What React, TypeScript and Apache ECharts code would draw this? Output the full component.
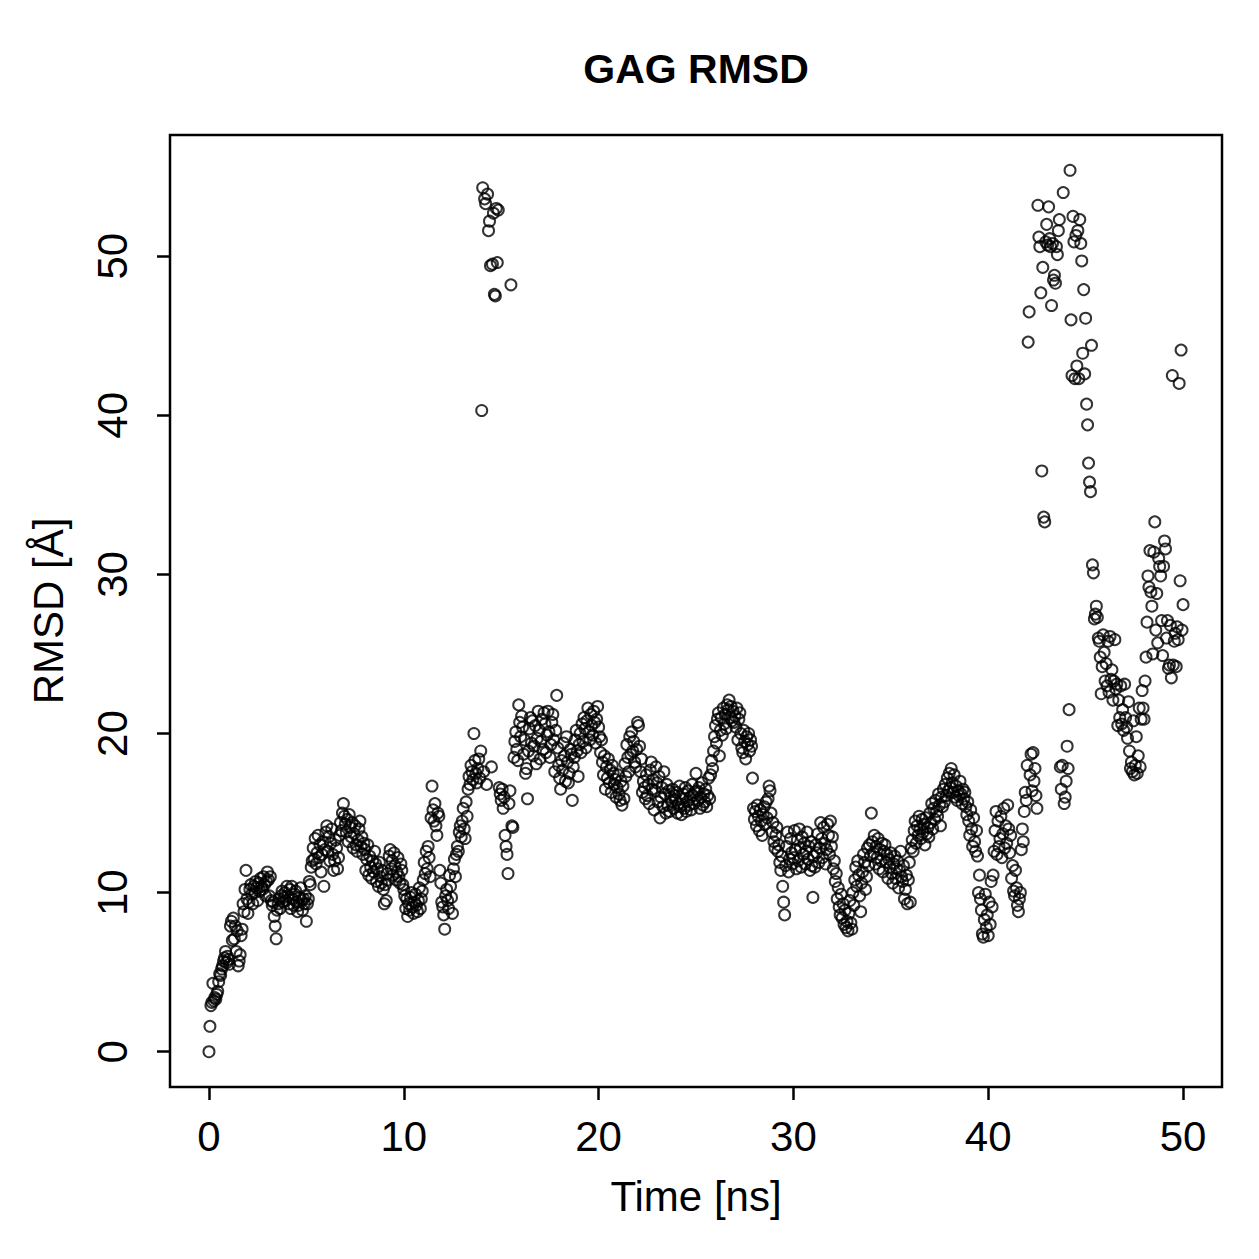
import React, { useEffect, useRef } from "react";
import * as echarts from "echarts";

// RMSD (Å) sampled every 0.05 ns from 0 to 50 ns (one row = 1 ns)
const timeStep = 0.05;
const rmsd: number[] = [
  0.0, 1.6, 2.9, 3.1, 4.3, 3.2, 3.4, 3.3, 3.6, 3.8, 4.4, 4.9, 4.8, 5.2, 5.4, 5.7, 5.9, 6.3, 5.6, 6.0,
  5.8, 5.5, 7.9, 8.2, 7.0, 8.4, 7.1, 7.9, 6.3, 7.6, 5.4, 5.7, 6.1, 7.3, 7.7, 9.3, 8.8, 10.2, 11.4, 9.6,
  8.7, 9.4, 10.2, 10.5, 9.9, 9.3, 10.4, 10.0, 10.7, 10.3, 9.5, 10.6, 10.1, 10.9, 10.4, 10.2, 11.0, 10.5, 9.8, 10.7,
  11.3, 10.8, 9.8, 11.0, 9.5, 9.2, 9.4, 8.5, 7.9, 7.1, 8.9, 9.3, 9.6, 9.0, 9.8, 10.1, 9.4, 9.7, 10.0, 9.5,
  10.4, 9.8, 9.3, 10.2, 9.0, 10.4, 9.6, 9.2, 9.9, 10.1, 9.4, 8.8, 9.2, 9.7, 10.3, 9.5, 8.9, 9.6, 9.3, 9.8,
  8.2, 9.3, 9.6, 10.7, 10.5, 11.6, 12.0, 12.8, 12.1, 13.4, 11.8, 12.5, 13.6, 12.2, 13.0, 11.3, 12.4, 13.2, 10.4, 12.7,
  13.8, 14.2, 12.6, 13.5, 12.0, 13.1, 14.0, 12.4, 11.4, 12.0, 13.3, 12.8, 11.5, 12.2, 13.6, 14.4, 13.9, 15.0, 15.6, 14.8,
  14.3, 13.8, 14.6, 13.2, 14.9, 14.1, 13.5, 14.4, 12.8, 13.7, 14.2, 13.0, 12.6, 13.3, 14.0, 14.5, 12.9, 13.5, 12.4, 13.1,
  12.7, 11.4, 12.1, 13.0, 11.1, 12.3, 11.6, 10.9, 12.0, 11.3, 12.6, 11.8, 10.7, 11.5, 10.4, 11.9, 11.0, 10.6, 11.4, 10.2,
  9.3, 10.5, 9.5, 11.2, 10.8, 12.3, 12.7, 11.5, 12.0, 11.1, 12.5, 11.7, 10.8, 11.3, 12.2, 11.0, 10.6, 11.8, 11.4, 10.5,
  10.2, 9.8, 9.0, 9.6, 8.5, 9.3, 8.9, 9.7, 10.0, 9.1, 8.7, 9.4, 9.9, 9.2, 8.8, 9.5, 10.3, 9.0, 9.6, 10.1,
  10.8, 11.9, 11.2, 12.6, 11.5, 12.9, 12.2, 11.0, 14.7, 16.7, 15.2, 14.5, 15.6, 14.2, 13.6, 15.0, 14.8, 11.4, 10.6, 9.4,
  9.1, 8.6, 7.7, 9.8, 10.2, 9.5, 9.0, 11.1, 10.4, 9.7, 8.7, 11.5, 12.1, 11.0, 12.4, 12.9, 12.6, 13.8, 14.2, 13.5,
  14.5, 15.3, 14.0, 13.4, 15.7, 14.8, 16.5, 17.3, 16.8, 18.0, 17.6, 17.1, 20.0, 18.3, 17.5, 16.9, 17.8, 18.4, 17.2, 18.9,
  40.3, 54.3, 17.6, 53.6, 53.3, 16.8, 53.9, 51.6, 52.2, 49.4, 17.9, 49.5, 52.7, 47.6, 47.5, 53.0, 49.6, 52.9, 16.6, 16.2,
  15.8, 16.5, 15.3, 16.0, 13.6, 12.9, 12.4, 11.2, 15.6, 16.4, 48.2, 14.2, 14.1, 18.5, 19.5, 20.1, 19.0, 18.3, 21.8, 20.7,
  19.8, 21.1, 20.4, 18.7, 19.6, 17.5, 17.8, 15.9, 18.9, 20.3, 21.0, 19.4, 20.8, 18.6, 19.2, 20.5, 18.1, 19.7, 21.4, 20.2,
  18.4, 19.5, 20.9, 19.0, 21.3, 20.6, 18.8, 19.9, 21.4, 20.1, 18.5, 19.3, 20.7, 21.2, 19.6, 17.6, 20.2, 22.4, 19.1, 18.0,
  17.2, 16.5, 18.3, 17.7, 19.4, 18.6, 17.0, 19.8, 18.2, 16.9, 17.5, 19.0, 18.7, 15.8, 17.9, 18.5, 19.6, 20.2, 18.9, 17.3,
  19.3, 20.0, 18.8, 20.6, 19.5, 21.0, 20.3, 19.1, 20.8, 21.6, 20.1, 19.6, 21.2, 20.5, 19.9, 21.4, 20.7, 19.4, 20.9, 21.7,
  20.4, 19.8, 18.8, 19.6, 18.2, 17.4, 18.6, 16.5, 17.9, 17.2, 18.4, 16.9, 17.7, 16.3, 18.0, 17.5, 16.8, 17.1, 16.0, 16.6,
  17.4, 16.2, 15.8, 17.0, 15.5, 16.7, 15.9, 18.1, 17.3, 19.3, 18.5, 17.6, 19.8, 18.7, 20.1, 18.9, 19.5, 18.2, 17.9, 19.0,
  20.7, 20.5, 19.2, 17.6, 18.4, 16.3, 17.0, 16.6, 15.9, 17.4, 16.1, 16.8, 15.6, 17.7, 18.2, 16.5, 17.1, 15.2, 16.4, 17.9,
  16.9, 15.7, 17.3, 14.7, 16.0, 16.6, 15.4, 17.6, 16.2, 15.0, 16.8, 15.5, 16.4, 15.1, 16.0, 15.7, 16.5, 15.3, 16.1, 15.8,
  16.3, 15.0, 15.6, 16.7, 15.4, 14.9, 15.9, 16.2, 15.3, 16.6, 15.1, 15.7, 16.4, 15.5, 16.0, 15.2, 16.8, 16.1, 15.6, 16.3,
  17.5, 16.4, 15.8, 16.6, 15.3, 16.0, 16.9, 15.5, 16.2, 15.7, 16.5, 15.4, 16.1, 17.2, 15.9, 17.4, 18.3, 17.8, 18.9, 19.8,
  20.5, 19.4, 20.9, 21.3, 18.6, 20.2, 21.0, 19.9, 21.6, 20.6, 21.2, 20.3, 21.8, 21.5, 22.1, 21.0, 21.7, 20.8, 21.4, 20.7,
  21.1, 20.4, 21.6, 19.6, 20.9, 21.3, 20.0, 19.1, 18.8, 20.2, 19.5, 18.4, 19.8, 19.3, 20.0, 18.9, 19.6, 19.2, 17.2, 15.3,
  14.6, 15.1, 14.2, 15.5, 14.8, 13.9, 15.2, 14.5, 13.6, 14.9, 15.4, 14.3, 15.7, 14.7, 15.9, 16.7, 16.4, 15.0, 13.8, 14.4,
  13.2, 12.8, 13.6, 14.1, 12.6, 13.0, 11.9, 11.4, 12.3, 10.4, 9.4, 8.6, 11.7, 12.9, 13.8, 11.3, 12.1, 13.4, 12.5, 11.8,
  12.2, 13.9, 12.7, 11.5, 13.3, 12.0, 14.0, 12.8, 11.6, 13.5, 12.4, 13.1, 11.8, 12.6, 13.8, 12.1, 12.9, 11.4, 13.2, 11.7,
  9.7, 12.3, 11.6, 13.0, 12.5, 13.7, 11.9, 12.8, 14.4, 13.4, 12.2, 14.1, 13.1, 11.8, 12.7, 14.3, 13.6, 12.4, 14.5, 12.9,
  13.5, 11.5, 12.0, 10.7, 11.2, 9.6, 10.3, 9.1, 8.6, 9.9, 8.4, 9.3, 8.0, 8.9, 7.8, 8.2, 7.6, 8.7, 9.5, 8.1,
  7.7, 10.0, 9.2, 10.8, 11.6, 10.4, 12.0, 11.1, 9.8, 8.8, 10.6, 11.3, 12.4, 11.9, 10.2, 11.0, 12.8, 11.7, 13.0, 12.3,
  15.0, 13.2, 12.5, 13.6, 11.8, 12.9, 12.2, 13.4, 11.5, 12.7, 12.0, 13.1, 11.3, 12.6, 13.0, 11.9, 12.4, 10.9, 12.1, 11.6,
  12.5, 11.2, 10.6, 11.8, 12.3, 10.9, 11.5, 12.0, 10.3, 11.4, 12.6, 11.0, 10.7, 11.7, 9.6, 10.2, 11.1, 9.3, 10.8, 11.9,
  9.4, 12.8, 13.3, 12.6, 13.9, 14.5, 13.1, 14.2, 13.6, 14.8, 14.0, 13.4, 14.6, 13.8, 14.3, 13.0, 14.7, 13.7, 14.1, 13.5,
  15.0, 14.4, 15.6, 14.0, 15.3, 14.6, 15.8, 15.1, 14.8, 16.2, 15.5, 14.2, 16.0, 15.4, 16.5, 15.7, 16.8, 16.1, 17.2, 16.4,
  17.5, 16.6, 17.8, 16.9, 16.3, 17.4, 16.0, 16.7, 15.8, 16.4, 16.1, 17.0, 16.2, 15.6, 16.5, 15.9, 16.3, 15.4, 14.9, 15.7,
  14.5, 13.6, 15.2, 14.0, 12.9, 14.7, 13.2, 12.6, 13.9, 12.3, 10.0, 11.1, 9.6, 8.9, 7.4, 7.2, 8.3, 9.9, 7.8, 8.6,
  7.3, 9.4, 8.0, 10.7, 9.1, 11.1, 12.6, 13.9, 15.1, 12.4, 14.5, 12.9, 13.4, 14.8, 12.2, 13.7, 15.3, 12.8, 14.2, 13.1,
  15.5, 14.0, 12.5, 13.6, 10.9, 11.7, 10.1, 9.8, 11.4, 10.3, 9.2, 8.8, 9.6, 10.0, 12.7, 14.0, 13.2, 15.1, 16.3, 15.8,
  18.0, 44.6, 46.5, 17.4, 18.7, 16.4, 18.8, 17.0, 17.8, 16.1, 15.3, 53.2, 51.2, 50.6, 47.7, 36.5, 49.3, 33.6, 33.3, 50.9,
  52.0, 50.7, 53.1, 51.1, 50.6, 46.9, 50.8, 48.5, 48.8, 48.3, 50.6, 50.1, 51.6, 52.3, 17.9, 16.5, 18.0, 54.0, 15.6, 16.0,
  17.0, 19.2, 17.8, 21.5, 55.4, 46.0, 42.5, 52.5, 50.9, 42.3, 51.3, 43.1, 51.6, 42.3, 52.3, 50.8, 49.7, 43.9, 47.9, 42.6,
  46.1, 40.7, 39.4, 37.0, 35.8, 35.2, 44.4, 30.6, 30.1, 27.2, 27.5, 28.0, 27.3, 26.0, 25.8, 24.8, 22.5, 24.2, 26.2, 25.1,
  23.3, 24.4, 23.0, 25.8, 22.6, 26.1, 23.4, 24.0, 22.1, 23.3, 25.9, 22.8, 23.1, 20.5, 22.1, 21.0, 23.0, 20.6, 21.5, 20.2,
  23.1, 21.0, 20.4, 19.7, 22.0, 18.9, 17.8, 18.2, 17.6, 20.8, 17.4, 18.0, 19.8, 17.5, 18.6, 21.6, 17.9, 20.9, 22.7, 21.6,
  20.9, 23.3, 24.8, 27.0, 29.9, 29.2, 31.5, 28.9, 28.0, 25.0, 31.4, 33.3, 26.5, 28.8, 25.7, 31.0, 30.5, 29.9, 27.1, 24.9,
  30.5, 32.1, 31.6, 26.0, 27.1, 24.1, 24.3, 26.8, 23.5, 42.5, 24.3, 25.8, 26.3, 24.2, 26.7, 25.9, 42.0, 29.6, 44.1, 26.5,
  28.1,
];

const xTicks = [0, 10, 20, 30, 40, 50];
const yTicks = [0, 10, 20, 30, 40, 50];

const FONT = "'Liberation Sans', Arial, Helvetica, sans-serif";

// plot region (pixels)
const PLOT_LEFT = 170;
const PLOT_TOP = 135;
const PLOT_W = 1052;
const PLOT_H = 952;
const TICK_LEN = 13;

export default function App() {
  const ref = useRef<HTMLDivElement>(null);

  useEffect(() => {
    if (!ref.current) return;
    const chart = echarts.init(ref.current, undefined, { renderer: "svg" });

    const times = rmsd.map((_, i) => +(i * timeStep).toFixed(2));
    const data = rmsd.map((v, i) => [times[i], v]);

    // R-style 4% axis extension
    const tMin = Math.min(...times), tMax = Math.max(...times);
    const yLo = Math.min(...rmsd), yHi = Math.max(...rmsd);
    const tPad = (tMax - tMin) * 0.04;
    const yPad = (yHi - yLo) * 0.04;
    const xA = tMin - tPad, xB = tMax + tPad;
    const yA = yLo - yPad, yB = yHi + yPad;

    // map values to pixels of the main plot, to size the thin tick strips
    const px = (t: number) => PLOT_LEFT + ((t - xA) / (xB - xA)) * PLOT_W;
    const py = (v: number) => PLOT_TOP + ((yB - v) / (yB - yA)) * PLOT_H;
    const xt0 = xTicks[0], xt1 = xTicks[xTicks.length - 1];
    const yt0 = yTicks[0], yt1 = yTicks[yTicks.length - 1];

    const labelStyle = { fontFamily: FONT, fontSize: 42, color: "#000" };
    const tickLine = { color: "#000", width: 2.5 };

    chart.setOption({
      animation: false,
      backgroundColor: "#ffffff",
      title: {
        text: "GAG RMSD",
        left: 696,
        top: 48,
        textAlign: "center",
        padding: 0,
        textStyle: { fontFamily: FONT, fontSize: 41, fontWeight: "bold", color: "#000" },
      },
      grid: [
        {
          left: PLOT_LEFT,
          top: PLOT_TOP,
          width: PLOT_W,
          height: PLOT_H,
          show: true,
          borderColor: "#000",
          borderWidth: 2.5,
          backgroundColor: "transparent",
        },
        {
          // thin strip just below the plot box, holding the x ticks
          left: px(xt0),
          width: px(xt1) - px(xt0),
          top: PLOT_TOP + PLOT_H,
          height: TICK_LEN,
          show: false,
        },
        {
          // thin strip just left of the plot box, holding the y ticks
          left: PLOT_LEFT - TICK_LEN,
          width: TICK_LEN,
          top: py(yt1),
          height: py(yt0) - py(yt1),
          show: false,
        },
      ],
      xAxis: [
        {
          gridIndex: 0,
          type: "value",
          min: xA,
          max: xB,
          name: "Time [ns]",
          nameLocation: "middle",
          nameGap: 88,
          nameTextStyle: labelStyle,
          axisLine: { show: false, onZero: false },
          axisTick: { show: false },
          axisLabel: { ...labelStyle, customValues: xTicks, margin: 28 },
          splitLine: { show: false },
        },
        {
          gridIndex: 1,
          type: "value",
          min: xt0,
          max: xt1,
          interval: 10,
          position: "bottom",
          axisLine: { show: false, onZero: false },
          axisTick: { show: true, inside: true, length: TICK_LEN, lineStyle: tickLine },
          axisLabel: { show: false },
          splitLine: { show: false },
        },
        {
          gridIndex: 2,
          type: "value",
          show: false,
          min: 0,
          max: 1,
        },
      ],
      yAxis: [
        {
          gridIndex: 0,
          type: "value",
          min: yA,
          max: yB,
          name: "RMSD [Å]",
          nameLocation: "middle",
          nameGap: 101,
          nameRotate: 90,
          nameTextStyle: labelStyle,
          axisLine: { show: false, onZero: false },
          axisTick: { show: false },
          axisLabel: { ...labelStyle, customValues: yTicks, rotate: 90, margin: 37 },
          splitLine: { show: false },
        },
        {
          gridIndex: 1,
          type: "value",
          show: false,
          min: 0,
          max: 1,
        },
        {
          gridIndex: 2,
          type: "value",
          min: yt0,
          max: yt1,
          interval: 10,
          position: "left",
          axisLine: { show: false, onZero: false },
          axisTick: { show: true, inside: true, length: TICK_LEN, lineStyle: tickLine },
          axisLabel: { show: false },
          splitLine: { show: false },
        },
      ],
      series: [
        {
          type: "scatter",
          xAxisIndex: 0,
          yAxisIndex: 0,
          data,
          symbol: "circle",
          symbolSize: 11,
          itemStyle: {
            color: "rgba(0,0,0,0)",
            borderColor: "#000",
            borderWidth: 2,
          },
          emphasis: { disabled: true },
        },
      ],
    });

    return () => chart.dispose();
  }, []);

  return (
    <div
      ref={ref}
      style={{ position: "absolute", left: 0, top: 0, width: 1259, height: 1259, background: "#fff" }}
    />
  );
}
